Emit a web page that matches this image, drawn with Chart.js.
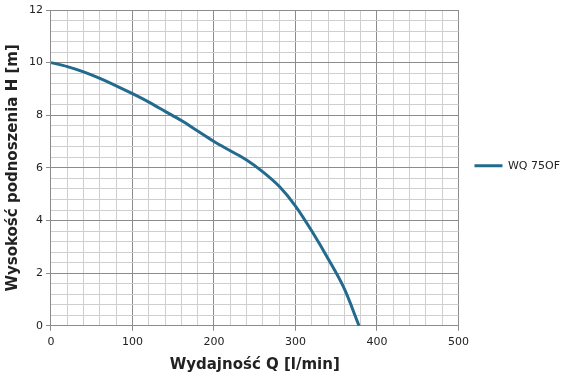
<!DOCTYPE html>
<html><head><meta charset="utf-8">
<script src="https://cdn.jsdelivr.net/npm/chart.js@4/dist/chart.umd.min.js"></script>
<style>html,body{margin:0;padding:0;background:#fff}#wrap{width:568px;height:376px}</style>
</head><body><div id="wrap"><canvas id="c" width="568" height="376"></canvas></div>
<script>
const flowQ = [0, 20, 40, 60, 80, 100, 120, 140, 160, 180, 200, 220, 240, 260, 280, 300, 320, 340, 360, 378];
const headH = [10, 9.85, 9.65, 9.4, 9.12, 8.82, 8.5, 8.15, 7.8, 7.4, 7.0, 6.65, 6.3, 5.85, 5.3, 4.55, 3.6, 2.55, 1.4, 0];
const seriesName = 'WQ 75OF';
const xTitle = 'Wydajność Q [l/min]';
const yTitle = 'Wysokość podnoszenia H [m]';

const isMajor = (v, step) => Math.abs(v / step - Math.round(v / step)) < 1e-6;
new Chart(document.getElementById('c'), {
  type: 'line',
  data: { datasets: [{
    label: seriesName,
    data: flowQ.map((q, i) => ({ x: q, y: headH[i] })),
    borderColor: '#236b8e', backgroundColor: '#236b8e',
    borderWidth: 3, pointRadius: 0, tension: 0.4, cubicInterpolationMode: 'monotone'
  }]},
  options: {
    responsive: false, animation: false,
    layout: { padding: { left: 0, right: -2, top: 10, bottom: 2 } },
    plugins: {
      legend: { position: 'right', align: 'start',
        title: { display: true, text: '', font: { size: 11 }, padding: { top: 121, bottom: 0 } },
        labels: { usePointStyle: true, pointStyle: 'line', pointStyleWidth: 28, color: '#222',
          font: { family: 'DejaVu Sans', size: 11 }, padding: 16 } },
      tooltip: { enabled: false }
    },
    scales: {
      x: { type: 'linear', min: 0, max: 500,
        ticks: { stepSize: 20, autoSkip: false, maxRotation: 0, color: '#222', padding: 5,
          font: { family: 'DejaVu Sans', size: 11 },
          callback: v => isMajor(v, 100) ? String(v) : '' },
        grid: { color: c => isMajor(c.tick.value, 100) ? '#8c8c8c' : '#cfcfcf',
          tickColor: c => isMajor(c.tick.value, 100) ? '#8c8c8c' : 'rgba(0,0,0,0)', tickLength: 5 },
        border: { color: '#8c8c8c' },
        title: { display: true, text: xTitle, color: '#222',
          font: { family: 'DejaVu Sans', size: 15, weight: 'bold' }, padding: { top: 2, bottom: 0 } } },
      y: { min: 0, max: 12,
        ticks: { stepSize: 0.4, autoSkip: false, color: '#222',
          font: { family: 'DejaVu Sans', size: 11 },
          callback: v => isMajor(v, 2) ? String(Math.round(v)) : '' },
        grid: { color: c => isMajor(c.tick.value, 2) ? '#8c8c8c' : '#cfcfcf',
          tickColor: c => isMajor(c.tick.value, 2) ? '#8c8c8c' : 'rgba(0,0,0,0)', tickLength: 5 },
        border: { color: '#8c8c8c' },
        title: { display: true, text: yTitle, color: '#222',
          font: { family: 'DejaVu Sans', size: 15, weight: 'bold' }, padding: { bottom: 4 } } }
    }
  }
});
</script></body></html>
